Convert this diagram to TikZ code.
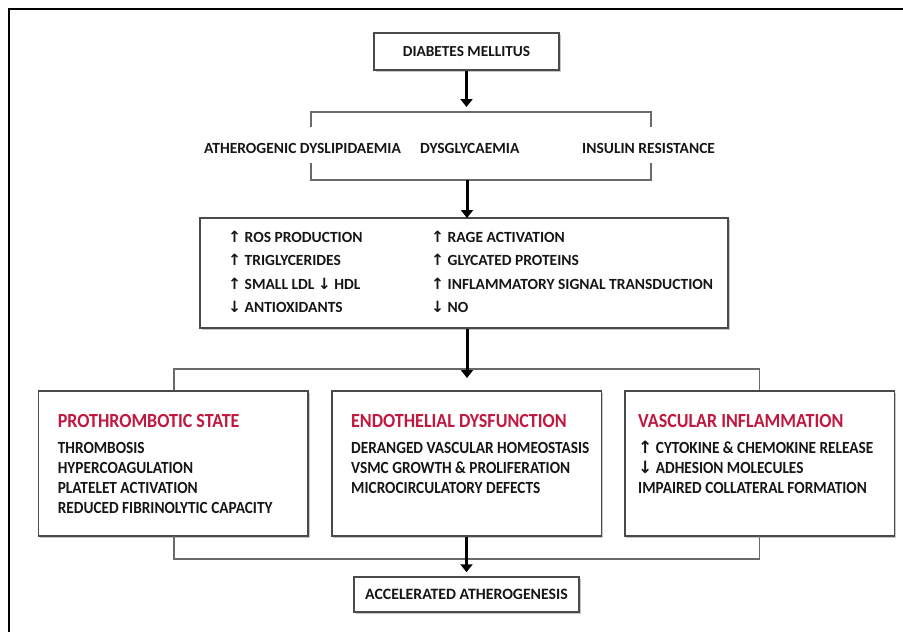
\documentclass[tikz,border=0pt]{standalone}
\usepackage{fontspec}
\setmainfont{Carlito}
\newfontfamily\fcond[FakeStretch=0.9]{Carlito}
\newfontfamily\arrfont{DejaVu Sans}
\usetikzlibrary{arrows.meta,shadows}
\definecolor{txt}{HTML}{161616}
\definecolor{redt}{HTML}{C0183F}
\definecolor{framec}{HTML}{4A4A4A}
\definecolor{brk}{HTML}{6A6A6A}
\newcommand{\uar}{{\arrfont\bfseries ↑}}
\newcommand{\dar}{{\arrfont\bfseries ↓}}
\begin{document}
\begin{tikzpicture}[x=1pt,y=-1pt,
  boxstyle/.style={draw=framec,line width=1.5pt,fill=white,inner sep=0pt,
    drop shadow={shadow xshift=1.5pt,shadow yshift=-1.5pt,fill=black!22,opacity=1}},
  lbl/.style={anchor=base west,inner sep=0pt,text=txt,font=\fontsize{15.5}{18}\selectfont\bfseries},
  blbl/.style={anchor=base west,inner sep=0pt,text=txt,font=\fcond\fontsize{17}{20}\selectfont\bfseries},
  ttl/.style={anchor=base west,inner sep=0pt,text=redt,font=\fcond\fontsize{20}{22}\selectfont\bfseries},
  flow/.style={line width=3pt,-{Triangle[width=12pt,length=8pt]}},
  brace/.style={draw=brk,line width=1.5pt}]
\useasboundingbox (0,0) rectangle (903,632);
% outer frame (top and left visible)
\draw[line width=2pt] (9,632) -- (9,9) -- (903,9);

% top box
\node[boxstyle,minimum width=185,minimum height=37,text=txt,
      font=\fontsize{15.3}{18}\selectfont\bfseries] (dm) at (466.5,51.5) {\raisebox{-1pt}{DIABETES MELLITUS}};

% first bracket
\coordinate (b1a) at (311,127);
\coordinate (b1b) at (311,112);
\coordinate (b1c) at (651,112);
\coordinate (b1d) at (651,127);
\coordinate (t1) at (466.5,107);
\draw[brace] (b1a) -- (b1b) -- (b1c) -- (b1d);
\draw[flow] (dm.south) -- (t1);

\node[lbl] (ad) at (204,153.5) {ATHEROGENIC DYSLIPIDAEMIA};
\node[lbl] (dg) at (420,153.5) {DYSGLYCAEMIA};
\node[lbl] (ir) at (582,153.5) {INSULIN RESISTANCE};

% second bracket
\coordinate (b2a) at (311,163);
\coordinate (b2b) at (311,180);
\coordinate (b2c) at (651,180);
\coordinate (b2d) at (651,163);
\coordinate (s2) at (467,180);
\draw[brace] (b2a) -- (b2b) -- (b2c) -- (b2d);

% middle box
\node[boxstyle,minimum width=528,minimum height=110] (mid) at (464,273) {};
\coordinate (t2) at (467,218);
\draw[flow] (s2) -- (t2);

\node[lbl] (m1) at (228,242) {\uar\ ROS PRODUCTION};
\node[lbl] (m2) at (228,265) {\uar\ TRIGLYCERIDES};
\node[lbl] (m3) at (228,289) {\uar\ SMALL LDL \dar\ HDL};
\node[lbl] (m4) at (228,312.5) {\dar\ ANTIOXIDANTS};
\node[lbl] (m5) at (431,242) {\uar\ RAGE ACTIVATION};
\node[lbl] (m6) at (431,265) {\uar\ GLYCATED PROTEINS};
\node[lbl] (m7) at (431,289) {\uar\ INFLAMMATORY SIGNAL TRANSDUCTION};
\node[lbl] (m8) at (431,312.5) {\dar\ NO};

% third bracket
\coordinate (s3) at (467,328);
\coordinate (t3) at (467,378);
\coordinate (b3a) at (174,391);
\coordinate (b3b) at (174,369);
\coordinate (b3c) at (759.5,369);
\coordinate (b3d) at (759.5,391);
\draw[brace] (b3a) -- (b3b) -- (b3c) -- (b3d);

% three boxes
\node[boxstyle,minimum width=269.5,minimum height=145] (pro) at (173.3,463.5) {};
\node[boxstyle,minimum width=269.5,minimum height=145] (endo) at (466.5,463.5) {};
\node[boxstyle,minimum width=269.5,minimum height=145] (vasc) at (759.5,463.5) {};
\draw[flow] (mid.south -| s3) -- (t3);

\node[ttl] (pt) at (57.6,427) {PROTHROMBOTIC STATE};
\node[blbl] (p1) at (57.6,453.5) {THROMBOSIS};
\node[blbl] (p2) at (57.6,473.5) {HYPERCOAGULATION};
\node[blbl] (p3) at (57.6,493.5) {PLATELET ACTIVATION};
\node[blbl] (p4) at (57.6,513.5) {REDUCED FIBRINOLYTIC CAPACITY};

\node[ttl] (et) at (351,427) {ENDOTHELIAL DYSFUNCTION};
\node[blbl] (e1) at (351,453.5) {DERANGED VASCULAR HOMEOSTASIS};
\node[blbl] (e2) at (351,473.5) {VSMC GROWTH \& PROLIFERATION};
\node[blbl] (e3) at (351,493.5) {MICROCIRCULATORY DEFECTS};

\node[ttl] (vt) at (638,427) {VASCULAR INFLAMMATION};
\node[blbl] (v1) at (638,453.5) {\uar\ CYTOKINE \& CHEMOKINE RELEASE};
\node[blbl] (v2) at (638,473.5) {\dar\ ADHESION MOLECULES};
\node[blbl] (v3) at (638,493.5) {IMPAIRED COLLATERAL FORMATION};

% fourth bracket
\coordinate (b4a) at (174,536);
\coordinate (b4b) at (174,559);
\coordinate (b4c) at (759.5,559);
\coordinate (b4d) at (759.5,536);
\draw[brace] (b4a) -- (b4b) -- (b4c) -- (b4d);

% final box
\node[boxstyle,minimum width=225,minimum height=35,text=txt,
      font=\fontsize{15.8}{18}\selectfont\bfseries] (acc) at (466.5,594.5) {ACCELERATED ATHEROGENESIS};
\draw[flow] (endo.south) -- ([yshift=4pt]acc.north);
\end{tikzpicture}
\end{document}
